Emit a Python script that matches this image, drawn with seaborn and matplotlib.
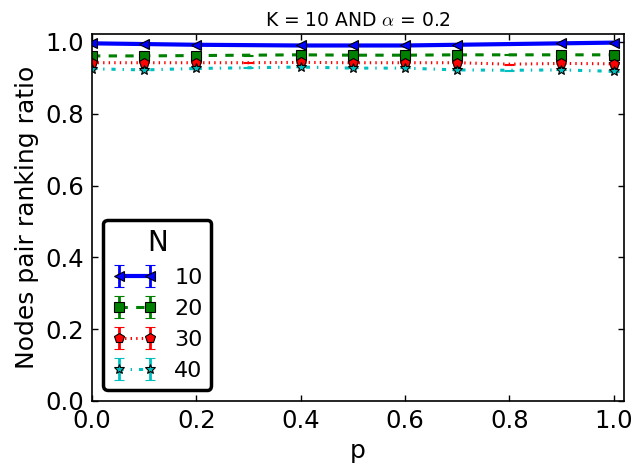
import numpy as np
import pandas as pd
import matplotlib
matplotlib.use("Agg")
import matplotlib.pyplot as plt
import seaborn as sns

# ---- data ----
p_values = [0.0, 0.1, 0.2, 0.3, 0.4, 0.5, 0.6, 0.7, 0.8, 0.9, 1.0]
n_labels = ["10", "20", "30", "40"]
ratio_n10 = [0.996, 0.994, 0.992, 0.991, 0.990, 0.990, 0.990, 0.992, 0.994, 0.996, 0.998]
ratio_n20 = [0.961, 0.961, 0.962, 0.963, 0.964, 0.963, 0.963, 0.964, 0.964, 0.964, 0.964]
ratio_n30 = [0.942, 0.942, 0.942, 0.942, 0.943, 0.942, 0.942, 0.942, 0.938, 0.940, 0.939]
ratio_n40 = [0.925, 0.922, 0.926, 0.928, 0.930, 0.927, 0.927, 0.922, 0.921, 0.922, 0.918]
err_n10 = [0.001] * 11
err_n20 = [0.001] * 11
err_n30 = [0.001] * 11
err_n40 = [0.001] * 11
title_text = r"K = 10 AND $\alpha$ = 0.2"

df = pd.DataFrame({
    "p": p_values * 4,
    "ratio": ratio_n10 + ratio_n20 + ratio_n30 + ratio_n40,
    "err": err_n10 + err_n20 + err_n30 + err_n40,
    "N": sum([[n] * len(p_values) for n in n_labels], []),
})

sns.set_theme(style="white")
plt.rcParams.update({
    "font.family": ["DejaVu Sans"],
    "mathtext.fontset": "cm",
    "xtick.direction": "in",
    "ytick.direction": "in",
    "xtick.top": True,
    "ytick.right": True,
    "xtick.bottom": True,
    "ytick.left": True,
    "xtick.major.size": 4.5,
    "ytick.major.size": 4.5,
    "xtick.major.width": 1.0,
    "ytick.major.width": 1.0,
    "axes.edgecolor": "black",
    "axes.linewidth": 1.2,
    "text.color": "black",
    "axes.labelcolor": "black",
    "xtick.color": "black",
    "ytick.color": "black",
    "lines.scale_dashes": False,
    "lines.dashed_pattern": [6, 6],
    "lines.dashdot_pattern": [3, 5, 1, 5],
    "lines.dotted_pattern": [1, 3],
})

fig = plt.figure(figsize=(6.34, 4.65), dpi=100)
ax = fig.add_axes([92 / 634, 1 - 401 / 465, (624 - 92) / 634, (401 - 34) / 465])

styles = {
    "10": dict(color="#0000ff", marker="<", ls="-", lw=3.0),
    "20": dict(color="#008000", marker="s", ls="--", lw=2.2),
    "30": dict(color="#ff0000", marker="p", ls=":", lw=2.2),
    "40": dict(color="#00bfbf", marker="*", ls="-.", lw=2.2),
}
mark_idx = [0, 1, 2, 4, 5, 6, 7, 9, 10]

for n in n_labels:
    sub = df[df["N"] == n]
    st = styles[n]
    ax.errorbar(sub["p"], sub["ratio"], yerr=sub["err"], color=st["color"],
                marker=st["marker"], linestyle=st["ls"], linewidth=st["lw"],
                markersize=7.5, markeredgecolor="black", markeredgewidth=0.8,
                markevery=mark_idx, capsize=3.5, capthick=2, elinewidth=2,
                label=n)

ax.set_xlim(0, 1.02)
ax.set_ylim(0, 1.022)
ax.set_xticks([0.0, 0.2, 0.4, 0.6, 0.8, 1.0])
ax.set_yticks([0.0, 0.2, 0.4, 0.6, 0.8, 1.0])
ax.tick_params(labelsize=17.5, pad=6)
ax.set_xlabel("p", fontsize=18)
ax.set_ylabel("Nodes pair ranking ratio", fontsize=18)
ax.set_title(title_text, fontsize=13.5)

leg = ax.legend(title="N", loc="lower left", fontsize=16, title_fontsize=20,
                numpoints=2, fancybox=True, frameon=True, framealpha=1.0,
                borderaxespad=0.5)
leg.get_frame().set_edgecolor("black")
leg.get_frame().set_linewidth(2.5)

fig.savefig("out.png", dpi=100)
